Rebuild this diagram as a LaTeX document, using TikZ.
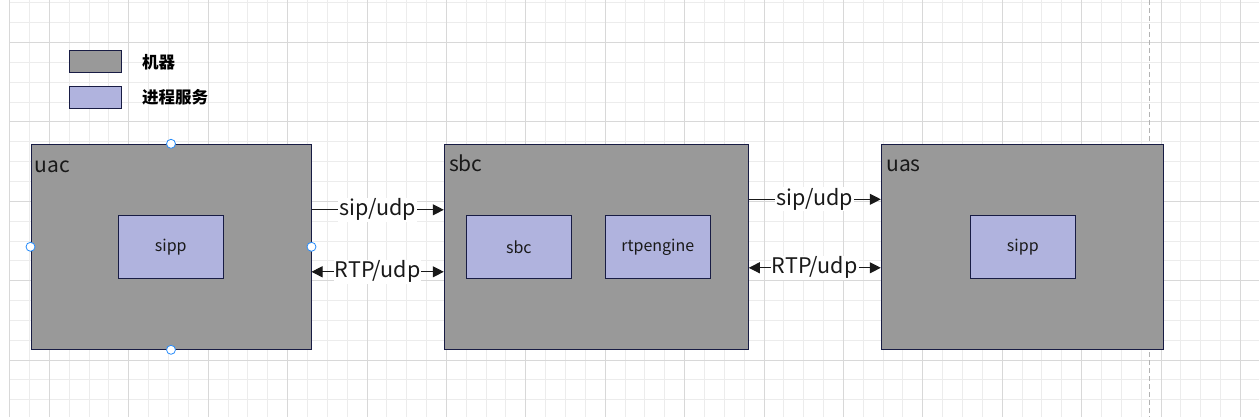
\documentclass[tikz,border=0pt]{standalone}
\usepackage{fontspec}
\setmainfont{Noto Sans CJK SC}
\usetikzlibrary{arrows.meta, positioning}
\definecolor{machine}{RGB}{153,153,153}
\definecolor{proc}{RGB}{176,179,222}
\definecolor{edgeline}{RGB}{24,28,68}
\definecolor{gridmin}{RGB}{236,236,236}
\definecolor{gridmaj}{RGB}{216,216,216}
\definecolor{handle}{RGB}{40,140,250}

\begin{document}
\begin{tikzpicture}[x=1pt, y=-1pt,
    host/.style={draw=edgeline, fill=machine, line width=1pt, minimum width=#1,
                 minimum height=205pt, inner sep=0pt},
    svc/.style={draw=edgeline, fill=proc, line width=1pt, minimum width=105pt,
                minimum height=63pt, inner sep=0pt, text=black!90,
                font=\fontsize{16}{18}\selectfont},
    ttl/.style={anchor=base west, inner sep=0pt, text=black!90,
                font=\fontsize{21}{24}\selectfont},
    lgd/.style={draw=edgeline, line width=1pt, minimum width=52pt, minimum height=22pt, inner sep=0pt},
    lgt/.style={anchor=west, inner sep=0pt, font=\fontsize{16.5}{19}\selectfont\bfseries},
    ar/.style={-{Triangle[length=11pt,width=11pt]}, line width=1pt, color=black!90},
    lbl/.style={fill=white, inner sep=1pt, text=black!90, font=\fontsize{21.5}{24}\selectfont},
    hd/.style={draw=handle, fill=white, line width=0.8pt}]
  \useasboundingbox (0,0) rectangle (1259,417);
  \fill[white] (0,0) rectangle (1259,417);
  % grid
  \foreach \k in {0,...,63} \draw[gridmin, line width=0.8pt] ({9.6+19.85*\k},0) -- ({9.6+19.85*\k},417);
  \foreach \k in {0,...,20} \draw[gridmin, line width=0.8pt] (9.6,{2.7+19.85*\k}) -- (1259,{2.7+19.85*\k});
  \foreach \k in {0,...,15} \draw[gridmaj, line width=0.8pt] ({49.3+79.4*\k},0) -- ({49.3+79.4*\k},417);
  \foreach \k in {0,...,4} \draw[gridmaj, line width=0.8pt] (9.6,{42.4+79.4*\k}) -- (1259,{42.4+79.4*\k});
  \draw[gridmaj, line width=0.8pt] (9.6,0) -- (9.6,417);
  \draw[black!30, line width=0.8pt, dash pattern=on 5pt off 3pt] (1149.3,0) -- (1149.3,417);

  % legend
  \node[lgd, fill=machine] (lgm) at (95.3,61.8) {};
  \node[lgd, fill=proc] (lgp) at (95.3,97.3) {};
  \node[lgt, right=20pt of lgm] (lgmT) {机器};
  \node[lgt, right=20pt of lgp] (lgpT) {进程服务};

  % machines
  \node[host=280pt] (uac) at (171,246.8) {};
  \node[host=304pt] (sbc) at (596.3,246.8) {};
  \node[host=282pt] (uas) at (1022.3,246.8) {};
  \node[ttl] (uacT) at ([xshift=4pt, yshift=-28.4pt]uac.north west) {uac};
  \node[ttl] (sbcT) at ([xshift=5pt, yshift=-28pt]sbc.north west) {sbc};
  \node[ttl] (uasT) at ([xshift=5.4pt, yshift=-28pt]uas.north west) {uas};

  % processes
  \node[svc] (sipA) at (170.8,246.8) {\raisebox{-2pt}{sipp}};
  \node[svc] (sbcP) at (518.8,246.8) {\raisebox{-2pt}{sbc}};
  \node[svc] (rtp) at (657.8,246.8) {\raisebox{-2pt}{rtpengine}};
  \node[svc] (sipB) at (1022.8,246.8) {\raisebox{-2pt}{sipp}};

  % links
  \draw[ar] ([yshift=37pt]uac.east) -- node[lbl] {sip/udp} ([yshift=37pt]sbc.west);
  \draw[ar, {Triangle[length=11pt,width=11pt]}-{Triangle[length=11pt,width=11pt]}]
    ([yshift=-25pt]uac.east) -- node[lbl] {RTP/udp} ([yshift=-25pt]sbc.west);
  \draw[ar] ([yshift=47.5pt]sbc.east) -- node[lbl] {sip/udp} ([yshift=47.5pt]uas.west);
  \draw[ar, {Triangle[length=11pt,width=11pt]}-{Triangle[length=11pt,width=11pt]}]
    ([yshift=-21pt]sbc.east) -- node[lbl] {RTP/udp} ([yshift=-21pt]uas.west);

  % selection handles
  \foreach \a in {north,south,east,west} \draw[hd] (uac.\a) circle[radius=4.5pt];
\end{tikzpicture}
\end{document}
